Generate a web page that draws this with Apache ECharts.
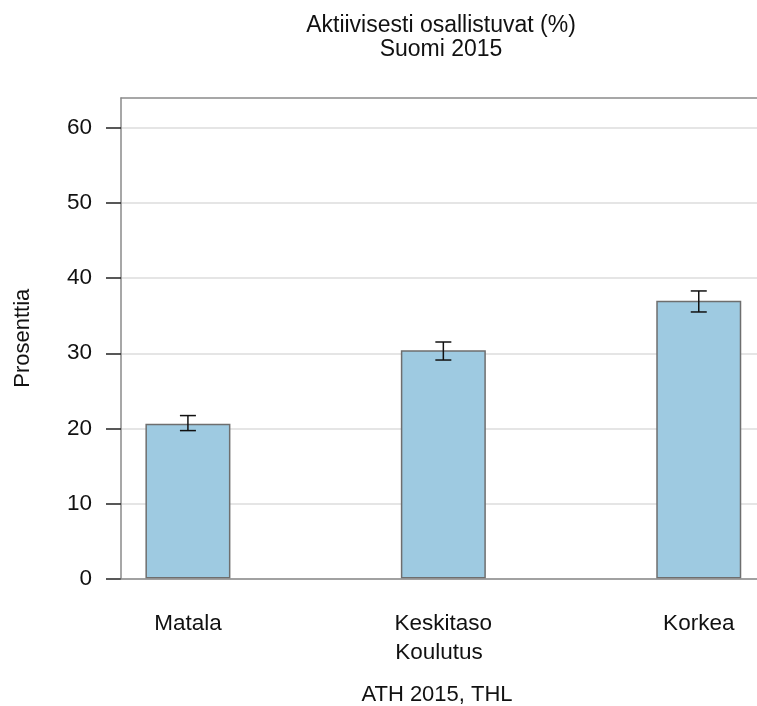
<!DOCTYPE html>
<html>
<head>
<meta charset="utf-8">
<script src="https://cdn.jsdelivr.net/npm/echarts@6/dist/echarts.min.js"></script>
<style>
  html, body { margin: 0; padding: 0; background: #fff; }
  #chart { width: 757px; height: 706px; }
</style>
</head>
<body>
<div id="chart"></div>
<script>
// Koulutusryhmät ja aktiivisesti osallistuvien osuudet (%) luottamusväleineen
const categories = ['Matala', 'Keskitaso', 'Korkea'];
const values = [20.6, 30.4, 37.0];
const lower = [19.7, 29.1, 35.5];
const upper = [21.7, 31.5, 38.3];
const yTicks = [0, 10, 20, 30, 40, 50, 60];

const FONT = '"Liberation Sans", Arial, sans-serif';
const TEXT = '#111';
const FRAME = '#8a8a8a';

// bars sit at x = 1, 2, 3 on a numeric axis
const positions = categories.map((c, i) => i + 1);
const xMin = 0.738, xMax = 3.228;

const chart = echarts.init(document.getElementById('chart'), null, { renderer: 'canvas' });

chart.setOption({
  animation: false,
  backgroundColor: '#fff',
  textStyle: { fontFamily: FONT, color: TEXT },
  graphic: [
    {
      type: 'text', x: 441, y: 26,
      style: { text: 'Aktiivisesti osallistuvat (%)', font: '23px ' + FONT, fill: TEXT, textAlign: 'center', textVerticalAlign: 'middle' }
    },
    {
      type: 'text', x: 441, y: 50,
      style: { text: 'Suomi 2015', font: '23px ' + FONT, fill: TEXT, textAlign: 'center', textVerticalAlign: 'middle' }
    },
    {
      type: 'text', x: 437, y: 695,
      style: { text: 'ATH 2015, THL', font: '22px ' + FONT, fill: TEXT, textAlign: 'center', textVerticalAlign: 'middle' }
    }
  ],
  grid: { left: 121, right: 0, top: 98, bottom: 706 - 578.5, show: false },
  xAxis: [
    {
      type: 'value', min: xMin, max: xMax, position: 'bottom', z: 3,
      name: 'Koulutus', nameLocation: 'middle', nameGap: 63,
      nameTextStyle: { fontSize: 22.5, color: TEXT, fontFamily: FONT },
      axisLine: { show: true, onZero: false, lineStyle: { color: FRAME, width: 1.5 } },
      axisTick: { show: false },
      splitLine: { show: false },
      axisLabel: {
        customValues: positions,
        formatter: v => categories[Math.round(v) - 1] || '',
        fontSize: 22.5, color: TEXT, fontFamily: FONT, margin: 34
      }
    },
    {
      type: 'value', min: xMin, max: xMax, position: 'top', z: 3,
      axisLine: { show: true, onZero: false, lineStyle: { color: FRAME, width: 1.5 } },
      axisTick: { show: false }, axisLabel: { show: false }, splitLine: { show: false }
    }
  ],
  yAxis: {
    type: 'value', min: 0, max: 64, interval: 10, z: 0,
    name: 'Prosenttia', nameLocation: 'middle', nameGap: 87,
    nameTextStyle: { fontSize: 22, color: TEXT, fontFamily: FONT },
    axisLine: { show: true, lineStyle: { color: FRAME, width: 1.5 } },
    axisTick: { show: true, customValues: yTicks, length: 15, inside: false, lineStyle: { color: '#222', width: 1.5 } },
    axisLabel: { customValues: yTicks, fontSize: 22.5, color: TEXT, fontFamily: FONT, margin: 29 },
    splitLine: { show: true, lineStyle: { color: '#dcdcdc', width: 1.5 } }
  },
  series: [
    {
      type: 'bar',
      xAxisIndex: 0,
      barWidth: 85,
      data: values.map((v, i) => [positions[i], v]),
      itemStyle: { color: '#9ecae1', borderColor: '#6e6e6e', borderWidth: 1.5 },
      z: 2
    },
    {
      type: 'custom',
      xAxisIndex: 0,
      z: 4,
      data: positions.map((p, i) => [p, lower[i], upper[i]]),
      renderItem: (params, api) => {
        const x = api.value(0);
        const lo = api.coord([x, api.value(1)]);
        const hi = api.coord([x, api.value(2)]);
        const half = 8;
        const style = { stroke: '#111', lineWidth: 1.5 };
        return {
          type: 'group',
          children: [
            { type: 'line', shape: { x1: lo[0], y1: lo[1], x2: hi[0], y2: hi[1] }, style },
            { type: 'line', shape: { x1: lo[0] - half, y1: lo[1], x2: lo[0] + half, y2: lo[1] }, style },
            { type: 'line', shape: { x1: hi[0] - half, y1: hi[1], x2: hi[0] + half, y2: hi[1] }, style }
          ]
        };
      }
    }
  ]
});
</script>
</body>
</html>
